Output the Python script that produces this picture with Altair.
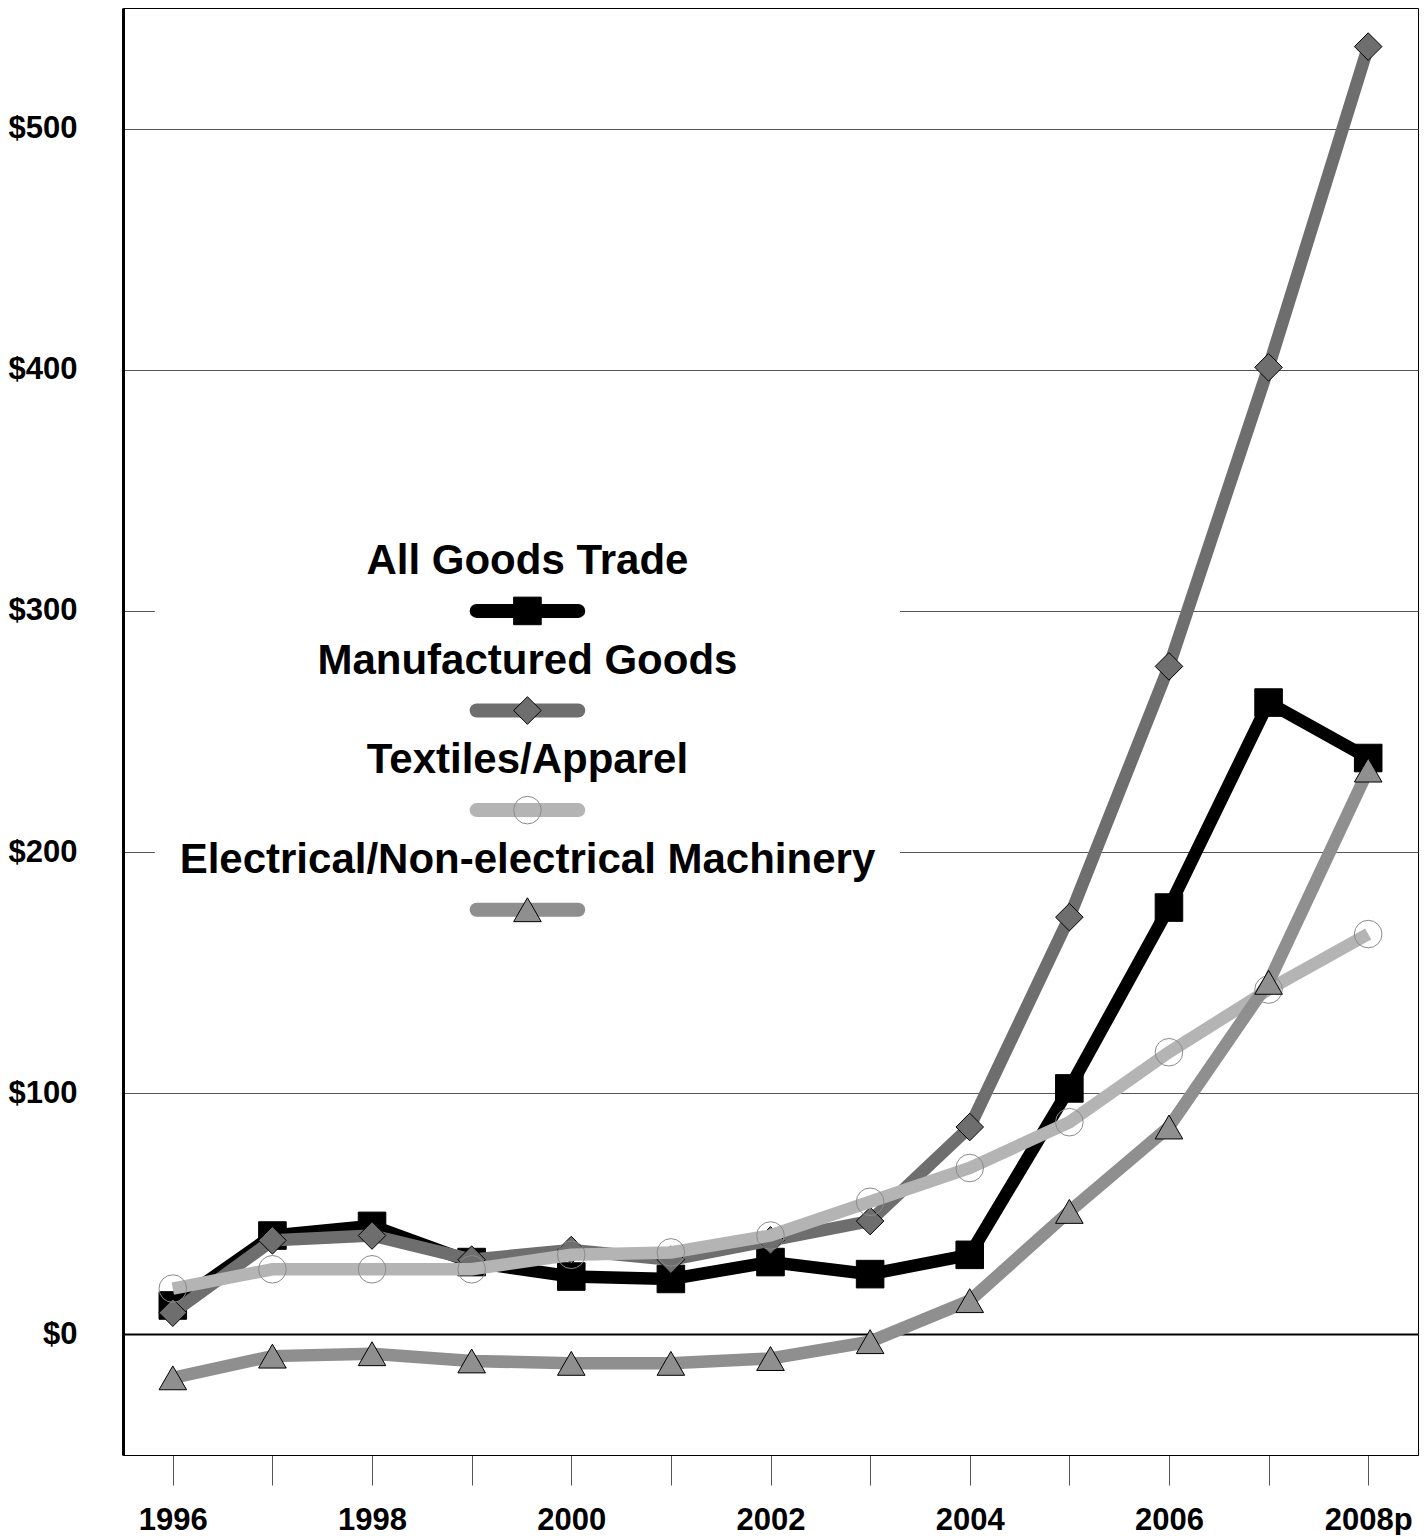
import altair as alt
import pandas as pd

years = list(range(1996, 2009))
x_tick_labels = ["1996", "", "1998", "", "2000", "", "2002", "", "2004", "", "2006", "", "2008p"]
y_tick_values = [0, 100, 200, 300, 400, 500]

series_names = ["All Goods Trade", "Manufactured Goods", "Textiles/Apparel",
                "Electrical/Non-electrical Machinery"]
all_goods = [12, 41, 45, 30, 24, 23, 30, 25, 33, 102, 177, 262, 239]
manufactured = [9, 39, 41, 31, 35, 31, 39, 47, 86, 173, 277, 401, 534]
textiles = [19, 27, 27, 27, 33, 34, 41, 55, 69, 88, 117, 143, 166]
machinery = [-18, -9, -8, -11, -12, -12, -10, -3, 14, 51, 86, 146, 234]
series_values = [all_goods, manufactured, textiles, machinery]

line_colors = ["#000000", "#6e6e6e", "#b4b4b4", "#8f8f8f"]
marker_shapes = ["square", "diamond", "circle", "triangle-up"]
marker_fills = ["#000000", "#6e6e6e", "transparent", "#8f8f8f"]
marker_strokes = ["#000000", "#000000", "#8a8a8a", "#000000"]

FONT = "Liberation Sans"
W, H = 1295, 1447

label_map = "{" + ",".join(f"'{y}':'{l}'" for y, l in zip(years, x_tick_labels)) + "}"

x_scale = alt.Scale(domain=[1995.5, 2008.5], nice=False, zero=False)
y_scale = alt.Scale(domain=[-50, 550], nice=False, zero=False)

x_axis = alt.Axis(values=years, labelExpr=f"{label_map}[toString(datum.value)]",
                  tickSize=30, tickColor="#555555", tickWidth=1,
                  domainColor="#000000", domainWidth=1, grid=False,
                  labelFont=FONT, labelFontSize=31, labelFontWeight="bold",
                  labelColor="#000000", labelPadding=20, labelOverlap=False,
                  labelFlush=False, title=None)
y_axis = alt.Axis(values=y_tick_values, labelExpr="'$' + datum.value",
                  ticks=False, domainColor="#000000", domainWidth=3,
                  grid=True, gridColor="#555555", gridWidth=1,
                  labelFont=FONT, labelFontSize=31, labelFontWeight="bold",
                  labelColor="#000000", labelPadding=46, title=None)

rows = []
for name, vals in zip(series_names, series_values):
    for yr, v in zip(years, vals):
        rows.append({"series": name, "year": yr, "value": v})
df = pd.DataFrame(rows)

base = alt.Chart(df)

# axes carrier (invisible)
axes = base.mark_point(opacity=0).encode(
    x=alt.X("year:Q", scale=x_scale, axis=x_axis),
    y=alt.Y("value:Q", scale=y_scale, axis=y_axis),
)

# legend layout (in data units)
leg_x = 1999.56
leg_x0, leg_x1 = 1999.05, 2000.07
leg_sym_y = [300 - 41.3 * i for i in range(4)]
leg_txt_y = [v + 20.6 for v in leg_sym_y]

legend_box = alt.Chart(pd.DataFrame({"x": [1995.82], "x2": [2003.3],
                                     "y": [332], "y2": [167]})).mark_rect(
    fill="white", stroke=None).encode(
    x=alt.X("x:Q", scale=x_scale), x2="x2:Q",
    y=alt.Y("y:Q", scale=y_scale), y2="y2:Q")

zero_rule = alt.Chart(pd.DataFrame({"v": [0]})).mark_rule(
    color="#000000", strokeWidth=2).encode(y=alt.Y("v:Q", scale=y_scale))

layers = [axes, legend_box, zero_rule]

for i, name in enumerate(series_names):
    sub = base.transform_filter(alt.datum.series == name)
    layers.append(sub.mark_line(color=line_colors[i], strokeWidth=12.5).encode(
        x=alt.X("year:Q", scale=x_scale), y=alt.Y("value:Q", scale=y_scale)))
    layers.append(sub.mark_point(shape=marker_shapes[i], size=760, filled=True,
                                 fill=marker_fills[i], stroke=marker_strokes[i],
                                 strokeWidth=1, opacity=1).encode(
        x=alt.X("year:Q", scale=x_scale), y=alt.Y("value:Q", scale=y_scale)))

    ldf = pd.DataFrame({"label": [name], "x": [leg_x], "x0": [leg_x0], "x1": [leg_x1],
                        "ty": [leg_txt_y[i]], "sy": [leg_sym_y[i]]})
    lc = alt.Chart(ldf)
    layers.append(lc.mark_text(font=FONT, fontSize=42, fontWeight="bold",
                               color="#000000", align="center", baseline="middle").encode(
        x=alt.X("x:Q", scale=x_scale), y=alt.Y("ty:Q", scale=y_scale), text="label:N"))
    layers.append(lc.mark_rule(color=line_colors[i], strokeWidth=14, strokeCap="round").encode(
        x=alt.X("x0:Q", scale=x_scale), x2="x1:Q", y=alt.Y("sy:Q", scale=y_scale)))
    layers.append(lc.mark_point(shape=marker_shapes[i], size=760, filled=True,
                                fill=marker_fills[i], stroke=marker_strokes[i],
                                strokeWidth=1, opacity=1).encode(
        x=alt.X("x:Q", scale=x_scale), y=alt.Y("sy:Q", scale=y_scale)))

chart = alt.layer(*layers).properties(width=W, height=H, padding=0).configure_view(
    stroke="#000000", strokeWidth=1)

chart.save("out.html", embed_options={"renderer": "svg", "actions": False})
